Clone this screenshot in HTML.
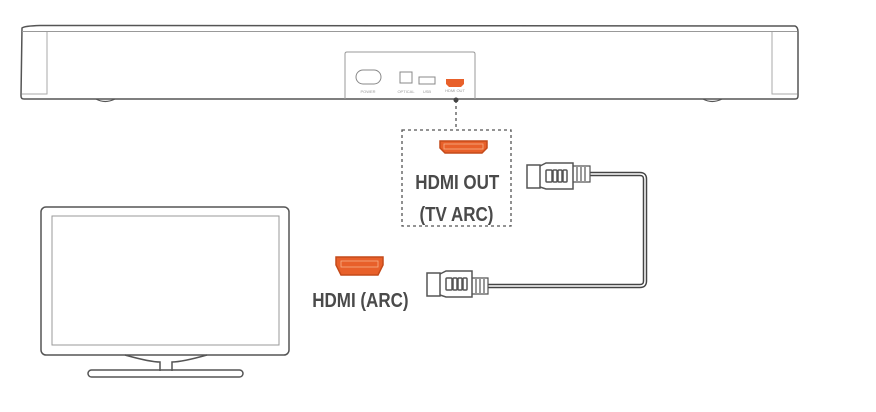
<!DOCTYPE html>
<html><head><style>
body{margin:0;background:#fff;width:876px;height:407px;overflow:hidden}
text{font-family:"Liberation Sans",sans-serif}
</style></head><body>
<svg width="876" height="407" viewBox="0 0 876 407" xmlns="http://www.w3.org/2000/svg">
<g fill="none" stroke="#555" stroke-width="1.5">
<path d="M22,28 Q24,26 40,25.5 L795,26 Q798,27 798,32 L798,96 Q798,99 795,99 L24,99 Q21,99 21,96 Z"/>
<path d="M22,31.5 L797,31.5" stroke="#999" stroke-width="1"/>
<path d="M47,32 V94 H22" stroke="#aaa" stroke-width="1"/>
<path d="M772,32 V94 H797" stroke="#aaa" stroke-width="1"/>
<path d="M96,99 Q105,104 115,99" stroke-width="1.2"/>
<path d="M703,99 Q712,104 722,99" stroke-width="1.2"/>
<path d="M345,99 V54 Q345,52 347,52 H473 Q475,52 475,54 V99" stroke="#999" stroke-width="1"/>
<rect x="356" y="70" width="25" height="14" rx="7" stroke="#888" stroke-width="1"/>
<rect x="400" y="72" width="12" height="11" stroke="#888" stroke-width="1"/>
<rect x="419" y="77" width="16" height="7" stroke="#888" stroke-width="1"/>
<path d="M456,100 V130" stroke-dasharray="3,3" stroke-width="1.3"/>
<rect x="402" y="130" width="109" height="96" stroke-dasharray="3,3" stroke-width="1.3"/>
<rect x="41" y="207" width="248" height="148" rx="5"/>
<rect x="52" y="216" width="227" height="129" stroke="#999" stroke-width="1"/>
<path d="M125,355 Q150,362 160,362 V371 M172,371 V362 Q182,362 207,355"/>
<rect x="88" y="370" width="155" height="7" rx="3.5"/>
<path d="M590,174 H640 Q645,174 645,179 V281 Q645,286 640,286 H488" stroke="#444" stroke-width="4.5"/>
<path d="M590,174 H640 Q645,174 645,179 V281 Q645,286 640,286 H488" stroke="#fff" stroke-width="1.5"/>
<path d="M527,165 H540 V188 H527 Z" />
<path d="M540,166 L546,163 H573 V189 H546 L540,187" />
<rect x="546" y="170" width="6" height="12" rx="1"/>
<rect x="553" y="170" width="4" height="12" rx="1"/>
<rect x="558" y="170" width="4" height="12" rx="1"/>
<rect x="563" y="170" width="4" height="12" rx="1"/>
<path d="M573,166 H590 V182 H573 M577,167 V181 M581,167 V181 M585,167 V181" stroke-width="1.2"/>
<path d="M427,273 H440 V296 H427 Z" />
<path d="M440,274 L446,271 H472 V297 H446 L440,295" />
<rect x="446" y="278" width="6" height="12" rx="1"/>
<rect x="453" y="278" width="4" height="12" rx="1"/>
<rect x="458" y="278" width="4" height="12" rx="1"/>
<rect x="463" y="278" width="4" height="12" rx="1"/>
<path d="M472,278 H488 V294 H472 M476,279 V293 M480,279 V293 M484,279 V293" stroke-width="1.2"/>
</g>
<circle cx="456" cy="100" r="2.5" fill="#444"/>
<path d="M446,79 H464 V84 L461,87 H449 L446,84 Z" fill="#e8602a"/>
<path d="M440,141 H487 V148 L482,153 H445 L440,148 Z" fill="#e8602a" stroke="#c44a1a" stroke-width="1.5"/>
<rect x="444" y="144" width="39" height="5" fill="none" stroke="#f7b088" stroke-width="0.8"/>
<path d="M336,257 H383 V265 L378,275 H341 L336,265 Z" fill="#e8602a" stroke="#c44a1a" stroke-width="1.5"/>
<rect x="341" y="261" width="37" height="6" fill="none" stroke="#f7b088" stroke-width="0.8"/>
<g font-size="4" fill="#999" text-anchor="middle">
<text x="368" y="93">POWER</text><text x="406" y="93">OPTICAL</text><text x="427" y="93">USB</text><text x="455" y="92">HDMI OUT</text>
</g>
<g fill="#4a4a4a" font-weight="bold" font-size="20" text-anchor="middle" transform="scale(0.85,1)">
<text x="538" y="189">HDMI OUT</text>
<text x="537" y="221">(TV ARC)</text>
<text x="424" y="307">HDMI (ARC)</text>
</g>
</svg>
</body></html>
